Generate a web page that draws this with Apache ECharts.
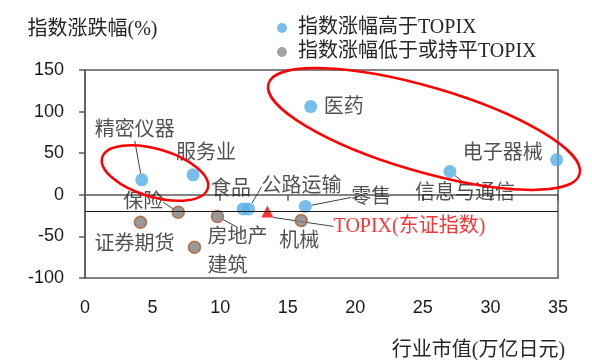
<!DOCTYPE html>
<html>
<head>
<meta charset="utf-8">
<script src="https://cdn.jsdelivr.net/npm/echarts@6/dist/echarts.min.js"></script>
<style>html,body{margin:0;padding:0;background:#fff;}#c{width:592px;height:360px;}</style>
</head>
<body>
<div id="c"></div>
<script>
// ---- data ----
const highNames = ['精密仪器', '服务业', '医药', '电子器械', '信息与通信', '零售', '公路运输', '食品'];
const highCap   = [4.2, 8.0, 16.7, 34.9, 27.0, 16.3, 12.1, 11.7];
const highChg   = [18, 24, 106, 42, 28, -14, -17, -17];

const lowNames = ['保险', '证券期货', '建筑', '房地产', '机械'];
const lowCap   = [6.9, 4.1, 8.1, 9.8, 16.0];
const lowChg   = [-21, -33, -63, -26, -31];

const topixName = 'TOPIX(东证指数)';
const topixCap = [13.5];
const topixChg = [-20];

const xTicks = [0, 5, 10, 15, 20, 25, 30, 35];
const yTicks = [-100, -50, 0, 50, 100, 150];

// ---- label layout (offsets of label centre from point, leader line on/off) ----
const highLabelLayout = [[-7,-49,true],[13,-21,false],[33,1,false],[-54,-6,false],[15,22,true],[66,-9,true],[53,-22,true],[-12,-19,false]];
const lowLabelLayout  = [[-35,-10,true],[-6,22,false],[33,20,false],[20,21,true],[-2,21,false]];
const topixLabelLayout = [[142,15,true]];

const FONT = "'Liberation Serif', 'Noto Sans CJK SC', serif";

function build(names, xs, ys, layout) {
  return names.map((n, i) => ({
    name: n,
    value: [xs[i], ys[i]],
    labelLine: { show: layout[i][2] }
  }));
}
function layoutFn(layout) {
  return function (p) { return { dx: layout[p.dataIndex][0], dy: layout[p.dataIndex][1] }; };
}

const labelBase = {
  show: true,
  position: 'inside',
  formatter: '{b}',
  fontFamily: FONT,
  fontSize: 20,
  color: '#262626'
};
const labelLineBase = { show: true, lineStyle: { color: '#404040', width: 1 } };

const chart = echarts.init(document.getElementById('c'), null, { renderer: 'canvas' });
chart.setOption({
  animation: false,
  backgroundColor: '#fff',
  grid: { left: 85, right: 34, top: 70, bottom: 82, containLabel: false, outerBoundsMode: 'none',
          show: true, borderColor: '#595959', borderWidth: 1.5, backgroundColor: 'transparent' },
  legend: {
    orient: 'vertical',
    left: 277, top: 18, padding: 0,
    itemWidth: 22, itemHeight: 10, itemGap: 4,
    icon: 'circle',
    textStyle: { fontFamily: FONT, fontSize: 20, color: '#262626' },
    data: [
      { name: '指数涨幅高于TOPIX', itemStyle: { color: '#55AEE6', borderWidth: 0 } },
      { name: '指数涨幅低于或持平TOPIX', itemStyle: { color: '#8c8c8c', borderWidth: 0 } }
    ]
  },
  xAxis: {
    type: 'value', min: xTicks[0], max: xTicks[xTicks.length - 1], interval: 5,
    name: '行业市值(万亿日元)', nameLocation: 'middle', nameGap: 63,
    nameTextStyle: { fontFamily: FONT, fontSize: 20, color: '#262626', padding: [0, 0, 0, 314] },
    axisLine: { show: true, lineStyle: { color: '#595959', width: 1.5 } },
    axisTick: { show: true, inside: false, length: 6, lineStyle: { color: '#595959', width: 1.5 } },
    axisLabel: { margin: 21, fontFamily: "'Liberation Sans', sans-serif", fontSize: 18, color: '#1a1a1a' },
    splitLine: { show: false }
  },
  yAxis: {
    type: 'value', min: yTicks[0], max: yTicks[yTicks.length - 1], interval: 50,
    name: '指数涨跌幅(%)', nameLocation: 'end', nameGap: 30,
    nameTextStyle: { fontFamily: FONT, fontSize: 20, color: '#262626', padding: [0, 0, 0, 15] },
    axisLine: { show: true, lineStyle: { color: '#595959', width: 1.5 } },
    axisTick: { show: true, inside: false, length: 6, lineStyle: { color: '#595959', width: 1.5 } },
    axisLabel: { margin: 21, fontFamily: "'Liberation Sans', sans-serif", fontSize: 18, color: '#1a1a1a' },
    splitLine: { show: false }
  },
  graphic: [
    { type: 'ellipse', x: 424, y: 129, rotation: -0.283, z: 10, silent: true,
      shape: { cx: 0, cy: 0, rx: 162, ry: 42.5 },
      style: { fill: 'none', stroke: '#FF0000', lineWidth: 2.5 } },
    { type: 'ellipse', x: 155, y: 173, rotation: -0.286, z: 10, silent: true,
      shape: { cx: 0, cy: 0, rx: 55, ry: 24 },
      style: { fill: 'none', stroke: '#FF0000', lineWidth: 2.5 } }
  ],
  series: [
    {
      name: 'TOPIX', type: 'scatter', symbol: 'triangle', symbolSize: 12,
      itemStyle: { color: '#FF0000' },
      data: build([topixName], topixCap, topixChg, topixLabelLayout),
      label: Object.assign({}, labelBase, { color: '#FF0000' }),
      labelLine: labelLineBase,
      labelLayout: layoutFn(topixLabelLayout),
      markLine: {
        silent: true, symbol: ['none', 'none'], label: { show: false },
        lineStyle: { color: '#1a1a1a', width: 1, type: 'solid' },
        data: [{ yAxis: topixChg[0] }]
      },
      z: 3
    },
    {
      name: '指数涨幅高于TOPIX', type: 'scatter', symbolSize: 13,
      itemStyle: { color: '#55AEE6' },
      data: build(highNames, highCap, highChg, highLabelLayout),
      label: labelBase, labelLine: labelLineBase,
      labelLayout: layoutFn(highLabelLayout),
      z: 4
    },
    {
      name: '指数涨幅低于或持平TOPIX', type: 'scatter', symbolSize: 12,
      itemStyle: { color: '#7F7F7F', borderColor: '#B5562A', borderWidth: 1.5 },
      data: build(lowNames, lowCap, lowChg, lowLabelLayout),
      label: labelBase, labelLine: labelLineBase,
      labelLayout: layoutFn(lowLabelLayout),
      z: 4
    }
  ]
});
</script>
</body>
</html>
